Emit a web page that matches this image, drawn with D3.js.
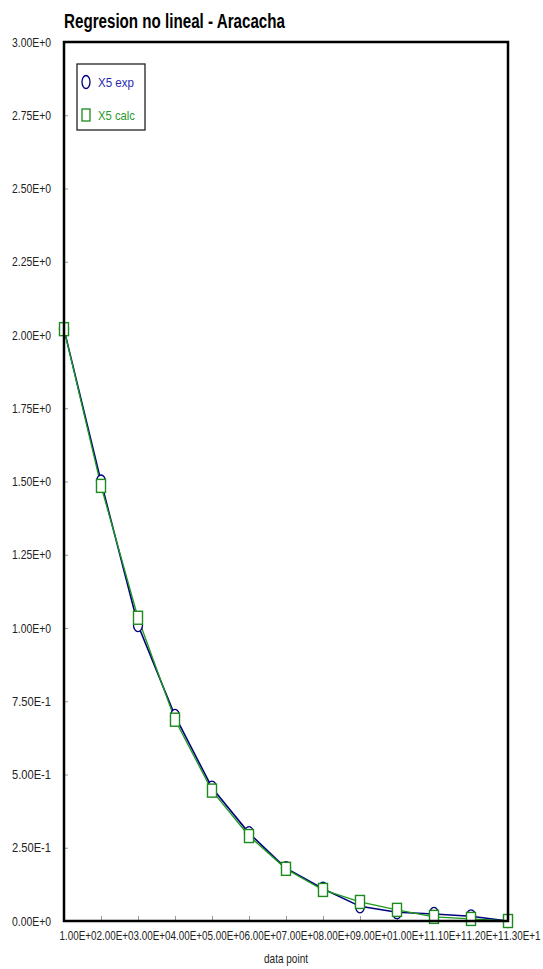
<!DOCTYPE html>
<html>
<head>
<meta charset="utf-8">
<script src="https://cdn.jsdelivr.net/npm/d3@7"></script>
<style>
  body { margin: 0; background: #fff; }
  svg { display: block; font-family: "Liberation Sans", Arial, sans-serif; }
</style>
</head>
<body>
<div id="chart"></div>
<script>
// data
var points = [1, 2, 3, 4, 5, 6, 7, 8, 9, 10, 11, 12, 13];
var x5Exp = [2.02, 1.50, 1.01, 0.70, 0.455, 0.30, 0.18, 0.11, 0.05, 0.03, 0.024, 0.016, 0.0];
var x5Calc = [2.02, 1.485, 1.035, 0.687, 0.445, 0.29, 0.178, 0.106, 0.065, 0.038, 0.014, 0.007, 0.0];
var yTicks = [0, 0.25, 0.5, 0.75, 1, 1.25, 1.5, 1.75, 2, 2.25, 2.5, 2.75, 3];

var width = 543, height = 969;
var margin = { top: 42, right: 35, bottom: 48, left: 64 };

var svg = d3.select("#chart").append("svg")
    .attr("width", width)
    .attr("height", height);

var xscale = d3.scaleLinear()
    .domain([1, 13])
    .range([margin.left, width - margin.right]);

var yscale = d3.scaleLinear()
    .domain([0, 3])
    .range([height - margin.bottom, margin.top]);

function sci(v) {
    // format like 1.00E+0 / 7.50E-1
    if (v === 0) return "0.00E+0";
    var e = Math.floor(Math.log10(v) + 1e-9);
    var m = v / Math.pow(10, e);
    return m.toFixed(2) + "E" + (e >= 0 ? "+" : "") + e;
}

// title
svg.append("text")
    .attr("x", 64)
    .attr("y", 28)
    .attr("font-size", 20)
    .attr("font-weight", "bold")
    .attr("textLength", 221)
    .attr("lengthAdjust", "spacingAndGlyphs")
    .attr("fill", "#000")
    .text("Regresion no lineal - Aracacha");

// y axis ticks + labels
var yaxis = d3.axisLeft(yscale)
    .tickValues(yTicks)
    .tickSize(-4)
    .tickFormat(sci);

svg.append("g")
    .attr("class", "axisY")
    .attr("transform", "translate(" + margin.left + ",0)")
    .call(yaxis)
    .call(g => g.select(".domain").remove())
    .call(g => g.selectAll(".tick line").attr("stroke", "#999"))
    .call(g => g.selectAll(".tick text")
        .attr("x", -13)
        .attr("font-size", 13)
        .attr("font-family", "Liberation Sans, Arial, sans-serif")
        .attr("fill", "#222")
        .attr("textLength", 39)
        .attr("lengthAdjust", "spacingAndGlyphs"));

// x axis ticks + labels
var xaxis = d3.axisBottom(xscale)
    .tickValues(points)
    .tickSize(-5)
    .tickFormat(sci);

svg.append("g")
    .attr("class", "axisX")
    .attr("transform", "translate(0," + (height - margin.bottom) + ")")
    .call(xaxis)
    .call(g => g.select(".domain").remove())
    .call(g => g.selectAll(".tick line").attr("stroke", "#999"))
    .call(g => g.selectAll(".tick text")
        .attr("text-anchor", "start")
        .attr("x", -5)
        .attr("y", 10)
        .attr("font-size", 13)
        .attr("font-family", "Liberation Sans, Arial, sans-serif")
        .attr("fill", "#222")
        .attr("textLength", 37)
        .attr("lengthAdjust", "spacingAndGlyphs"));

svg.append("text")
    .attr("x", 286)
    .attr("y", 963)
    .attr("text-anchor", "middle")
    .attr("font-size", 13)
    .attr("fill", "#222")
    .attr("textLength", 44)
    .attr("lengthAdjust", "spacingAndGlyphs")
    .text("data point");

// lines
var lineExp = d3.line()
    .x((d, i) => xscale(points[i]))
    .y(d => yscale(d));

svg.append("path")
    .datum(x5Exp)
    .attr("fill", "none")
    .attr("stroke", "#00007f")
    .attr("stroke-width", 1.6)
    .attr("d", lineExp);

svg.append("path")
    .datum(x5Calc)
    .attr("fill", "none")
    .attr("stroke", "#1c9a1c")
    .attr("stroke-width", 1.3)
    .attr("d", lineExp);

// markers
svg.selectAll(".mexp")
    .data(x5Exp)
    .enter()
    .append("ellipse")
    .attr("class", "mexp")
    .attr("cx", (d, i) => xscale(points[i]))
    .attr("cy", d => yscale(d))
    .attr("rx", 4.5)
    .attr("ry", 6.5)
    .attr("fill", "#fff")
    .attr("stroke", "#00007f")
    .attr("stroke-width", 1.3);

svg.selectAll(".mcalc")
    .data(x5Calc)
    .enter()
    .append("rect")
    .attr("class", "mcalc")
    .attr("x", (d, i) => xscale(points[i]) - 4.5)
    .attr("y", d => yscale(d) - 6.5)
    .attr("width", 9)
    .attr("height", 13)
    .attr("fill", "#fff")
    .attr("stroke", "#1c8a1c")
    .attr("stroke-width", 1.4);

// frame
svg.append("rect")
    .attr("x", margin.left)
    .attr("y", margin.top)
    .attr("width", width - margin.left - margin.right)
    .attr("height", height - margin.top - margin.bottom)
    .attr("fill", "none")
    .attr("stroke", "#000")
    .attr("stroke-width", 2.5);

// legend
var legend = svg.append("g").attr("transform", "translate(77,64)");
legend.append("rect")
    .attr("width", 68)
    .attr("height", 66)
    .attr("fill", "#fff")
    .attr("stroke", "#222")
    .attr("stroke-width", 1.3);
legend.append("ellipse")
    .attr("cx", 9).attr("cy", 18)
    .attr("rx", 4).attr("ry", 6.5)
    .attr("fill", "none").attr("stroke", "#00007f").attr("stroke-width", 1.3);
legend.append("text")
    .attr("x", 21).attr("y", 23)
    .attr("font-size", 13).attr("fill", "#2b2bb0")
    .attr("textLength", 36).attr("lengthAdjust", "spacingAndGlyphs")
    .text("X5 exp");
legend.append("rect")
    .attr("x", 5).attr("y", 45)
    .attr("width", 8).attr("height", 12)
    .attr("fill", "none").attr("stroke", "#1c8a1c").attr("stroke-width", 1.3);
legend.append("text")
    .attr("x", 21).attr("y", 56)
    .attr("font-size", 13).attr("fill", "#2a9a2a")
    .attr("textLength", 37).attr("lengthAdjust", "spacingAndGlyphs")
    .text("X5 calc");
</script>
</body>
</html>
